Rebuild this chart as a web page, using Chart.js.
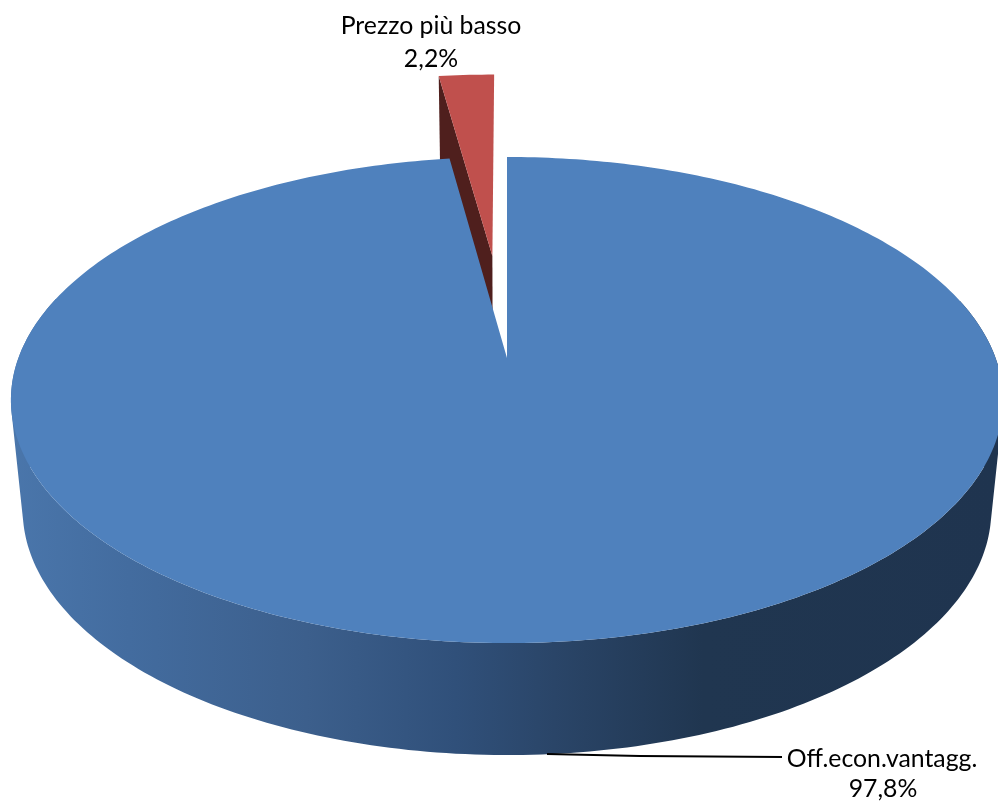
<!DOCTYPE html>
<html>
<head>
<meta charset="utf-8">
<style>html,body{margin:0;padding:0;background:#fff}canvas{display:block}</style>
<script src="https://cdn.jsdelivr.net/npm/chart.js@4"></script>
</head>
<body>
<canvas id="c" width="998" height="803"></canvas>
<script>
const categories = ['Off.econ.vantagg.', 'Prezzo più basso'];
const shares = [97.8, 2.2];
const topColors = ['#4F81BD', '#C0504D'];
const wallColor = '#4F1F1D';

const FONT = '24.8px Lato';
const topPlane = {x0: 507, y0: 358, A: 235.8, B: 488.6};
const lowPlane = {x0: 507, y0: 467.6, A: 237.7, B: 477};

function project(plane, k, u, v) {
  const w = 1 + k * v;
  return [plane.x0 + plane.B * u / w, plane.y0 + plane.A * v / w];
}
function arcPoints(arc, plane, k) {
  const mid = (arc.startAngle + arc.endAngle) / 2;
  const d = (arc.options.offset || 0) / arc.outerRadius;
  const ox = Math.cos(mid) * d, oy = Math.sin(mid) * d;
  const n = Math.max(2, Math.ceil((arc.endAngle - arc.startAngle) * 60));
  const rim = [];
  for (let i = 0; i <= n; i++) {
    const a = arc.startAngle + (arc.endAngle - arc.startAngle) * i / n;
    rim.push(project(plane, k, ox + Math.cos(a), oy + Math.sin(a)));
  }
  return {rim, apex: project(plane, k, ox, oy)};
}
function addPoly(ctx, pts) {
  pts.forEach((p, i) => i ? ctx.lineTo(p[0], p[1]) : ctx.moveTo(p[0], p[1]));
  ctx.closePath();
}
function poly(ctx, pts, fill) {
  ctx.beginPath();
  addPoly(ctx, pts);
  ctx.fillStyle = fill;
  ctx.fill();
}
function signedArea(pts) {
  let s = 0;
  pts.forEach((p, i) => {
    const q = pts[(i + 1) % pts.length];
    s += p[0] * q[1] - q[0] * p[1];
  });
  return s;
}

const pie3d = {
  id: 'pie3d',
  beforeDatasetsDraw(chart) {
    const ctx = chart.ctx;
    const [blue, red] = chart.getDatasetMeta(0).data;
    ctx.save();
    // exploded slice: its visible left inner face, then its top
    const kRed = -0.148;
    const rt = arcPoints(red, topPlane, kRed), rl = arcPoints(red, lowPlane, kRed);
    poly(ctx, [rt.apex, rt.rim[0], rl.rim[0], rl.apex], wallColor);
    poly(ctx, [rt.apex, ...rt.rim], topColors[1]);
    // main slice: outer wall with horizontal shading, then its top
    const kBlue = -0.173;
    const bt = arcPoints(blue, topPlane, kBlue), bl = arcPoints(blue, lowPlane, kBlue);
    const g = ctx.createLinearGradient(10, 0, 1000, 0);
    g.addColorStop(0, '#4A76AB');
    g.addColorStop(0.12, '#436C9F');
    g.addColorStop(0.30, '#3C5F8C');
    g.addColorStop(0.45, '#30507A');
    g.addColorStop(0.55, '#2A4568');
    g.addColorStop(0.70, '#203650');
    g.addColorStop(1, '#1F344F');
    // one path of same-winding quads, so the wall fills without seams
    ctx.beginPath();
    for (let i = 0; i + 1 < bt.rim.length; i++) {
      if (bt.rim[i][1] < 300) continue; // back of the wall is hidden behind the top
      const quad = [bt.rim[i], bt.rim[i + 1], bl.rim[i + 1], bl.rim[i]];
      if (signedArea(quad) < 0) quad.reverse();
      addPoly(ctx, quad);
    }
    ctx.fillStyle = g;
    ctx.fill('nonzero');
    poly(ctx, [bt.apex, ...bt.rim], topColors[0]);
    // data labels
    ctx.fillStyle = '#000';
    ctx.font = FONT;
    ctx.textAlign = 'center';
    ctx.textBaseline = 'alphabetic';
    const fmt = v => v.toFixed(1).replace('.', ',') + '%';
    ctx.fillText(categories[1], 431, 34);
    ctx.fillText(fmt(shares[1]), 431, 67);
    ctx.fillText(categories[0], 882, 767);
    ctx.fillText(fmt(shares[0]), 883, 797);
    // leader line
    ctx.strokeStyle = '#000';
    ctx.lineWidth = 1.8;
    ctx.beginPath();
    ctx.moveTo(547, 754);
    ctx.lineTo(640, 756);
    ctx.lineTo(782, 757);
    ctx.stroke();
    ctx.restore();
    return false;
  }
};

new Chart(document.getElementById('c'), {
  type: 'pie',
  data: {
    labels: categories,
    datasets: [{
      data: shares,
      backgroundColor: topColors,
      borderWidth: 0,
      offset: [0, 151]
    }]
  },
  options: {
    responsive: false,
    animation: false,
    rotation: 0,
    layout: {padding: 0},
    plugins: {legend: {display: false}, tooltip: {enabled: false}}
  },
  plugins: [pie3d]
});
</script>
</body>
</html>
